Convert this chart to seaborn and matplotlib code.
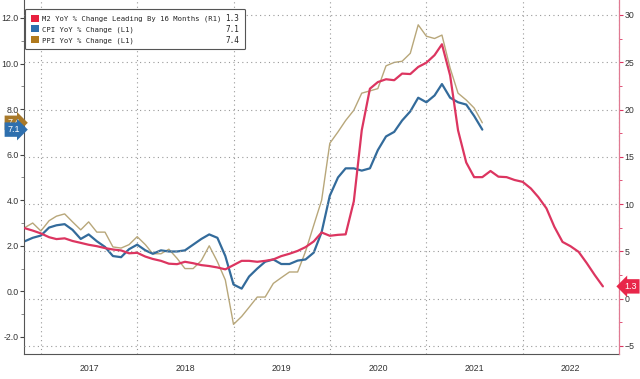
import numpy as np
import pandas as pd
import seaborn as sns
import matplotlib.pyplot as plt
import matplotlib.dates as mdates
import matplotlib.transforms as mtrans
from matplotlib.patches import Patch

# monthly points, first of month, as placed on the chart axis
months = pd.date_range('2016-11-01', periods=73, freq='MS')

# M2 YoY % change, leading by 16 months (right axis)
m2 = [7.45, 7.2, 6.9, 6.5, 6.3, 6.38, 6.1, 5.9, 5.7, 5.55, 5.35, 5.2, 5.1, 4.8, 4.85,
      4.45, 4.2, 4.0, 3.7, 3.65, 3.9, 3.75, 3.55, 3.45, 3.3, 3.1, 3.55, 4.0, 4.0, 3.9,
      4.0, 4.15, 4.5, 4.75, 5.05, 5.45, 6.05, 7.0, 6.65, 6.75, 6.8, 10.3, 17.8, 22.2,
      22.9, 23.2, 23.1, 23.8, 23.75, 24.5, 24.95, 25.75, 26.9, 23.6, 17.8, 14.4, 12.85,
      12.85, 13.5, 12.9, 12.85, 12.55, 12.35, 11.65, 10.75, 9.55, 7.6, 6.0, 5.55, 4.95,
      3.75, 2.5, 1.3]

# CPI YoY % change (left axis)
cpi = [2.2, 2.35, 2.45, 2.8, 2.9, 2.95, 2.7, 2.3, 2.5, 2.2, 1.95, 1.55, 1.5, 1.85, 2.05,
       1.8, 1.65, 1.8, 1.75, 1.75, 1.8, 2.05, 2.3, 2.5, 2.35, 1.55, 0.3, 0.12, 0.65, 1.0,
       1.3, 1.4, 1.2, 1.2, 1.35, 1.4, 1.7, 2.6, 4.2, 5.0, 5.4, 5.4, 5.3, 5.4, 6.2, 6.8,
       7.0, 7.5, 7.9, 8.5, 8.3, 8.6, 9.1, 8.5, 8.3, 8.2, 7.7, 7.1]

# PPI YoY % change (left axis)
ppi = [2.8, 3.0, 2.65, 3.1, 3.3, 3.4, 3.05, 2.7, 3.05, 2.6, 2.6, 1.95, 1.9, 2.05, 2.4,
       2.05, 1.65, 1.65, 1.85, 1.45, 1.0, 1.0, 1.35, 2.0, 1.3, 0.5, -1.45, -1.1, -0.7,
       -0.25, -0.25, 0.35, 0.6, 0.85, 0.85, 1.75, 2.9, 4.0, 6.5, 7.0, 7.5, 7.95, 8.7,
       8.8, 8.9, 9.9, 10.05, 10.1, 10.45, 11.7, 11.2, 11.1, 11.25, 9.8, 8.7, 8.4, 8.05, 7.4]

year_labels = ['2017', '2018', '2019', '2020', '2021', '2022']
legend_labels = ['M2 YoY % Change Leading By 16 Months (R1)',
                 'CPI YoY % Change (L1)', 'PPI YoY % Change (L1)']
legend_values = ['1.3', '7.1', '7.4']

red = '#dc3560'
blue = '#336b9b'
tan = '#b8a77a'

sns.set_style('white')
plt.rcParams['font.family'] = ['Liberation Sans', 'DejaVu Sans']

fig = plt.figure(figsize=(6.4, 3.79), dpi=100)
ax = fig.add_axes([24/640, 25/379, 595/640, 354/379])
ax2 = ax.twinx()

df = pd.DataFrame({'date': months[:len(cpi)], 'cpi': cpi, 'ppi': ppi})
df2 = pd.DataFrame({'date': months, 'm2': m2})

sns.lineplot(data=df, x='date', y='ppi', ax=ax, color=tan, lw=1.0)
sns.lineplot(data=df, x='date', y='cpi', ax=ax, color=blue, lw=1.6)
sns.lineplot(data=df2, x='date', y='m2', ax=ax2, color=red, lw=1.6)

for a in (ax, ax2):
    a.set_xlabel('')
    a.set_ylabel('')

ax.set_xlim(pd.Timestamp('2016-10-29'), pd.Timestamp('2023-01-01'))
ax.set_ylim(-2.75, 12.79)
ax2.set_ylim(-5.85, 31.58)

# x axis: long year separators, quarterly small ticks
ax.xaxis.set_major_locator(mdates.YearLocator())
ax.xaxis.set_minor_locator(mdates.MonthLocator(bymonth=[1, 4, 7, 10]))
ax.xaxis.set_major_formatter(plt.NullFormatter())
ax.tick_params(axis='x', which='major', length=19, width=0.8, color='#999999', direction='out')
ax.tick_params(axis='x', which='minor', length=2.5, width=0.7, color='#555555', direction='out')
ax.grid(axis='x', which='major', ls=(0, (1, 3)), color='#999999', lw=0.8)

# left axis
ax.set_yticks(np.arange(-2, 13, 2))
ax.set_yticks(np.arange(-1, 13, 2), minor=True)
ax.yaxis.set_major_formatter(plt.FormatStrFormatter('%.1f'))
ax.tick_params(axis='y', which='major', length=3, width=0.8, color='#444444',
               labelsize=6.3, labelcolor='#333333', pad=1)
ax.tick_params(axis='y', which='minor', length=2, width=0.6, color='#777777')

# right axis
ax2.set_yticks(np.arange(-5, 31, 5))
ax2.set_yticks(np.arange(-2.5, 31, 5), minor=True)
ax2.tick_params(axis='y', which='major', length=3, width=0.8, color=red,
                labelsize=6.3, labelcolor='#333333', pad=1)
ax2.tick_params(axis='y', which='minor', length=2, width=0.6, color=red)
ax2.grid(axis='y', which='major', ls=(0, (1, 3)), color='#999999', lw=0.8)

for s in ('top', 'right'):
    ax.spines[s].set_visible(False)
ax.spines['left'].set_color('#555555')
ax.spines['bottom'].set_color('#555555')
ax.spines['left'].set_linewidth(0.8)
ax.spines['bottom'].set_linewidth(0.8)
for s in ('top', 'left', 'bottom'):
    ax2.spines[s].set_visible(False)
ax2.spines['right'].set_color('#e07a92')
ax2.spines['right'].set_linewidth(0.9)

# year labels centred under each year
trans = mtrans.blended_transform_factory(ax.transData, ax.transAxes)
for y in year_labels:
    ax.text(pd.Timestamp(y + '-07-02'), -0.04, y, transform=trans, ha='center', va='center',
            fontsize=6.3, color='#333333')

# last value badges
ltrans = mtrans.blended_transform_factory(ax.transAxes, ax.transData)
ax.text(-0.007, ppi[-1], legend_values[2], transform=ltrans, ha='right', va='center',
        fontsize=6.5, color='white',
        bbox=dict(boxstyle='rarrow,pad=0.3', fc='#a8792a', ec='none'), clip_on=False)
ax.text(-0.007, cpi[-1], legend_values[1], transform=ltrans, ha='right', va='center',
        fontsize=6.5, color='white',
        bbox=dict(boxstyle='rarrow,pad=0.3', fc='#2e6fae', ec='none'), clip_on=False)
rtrans = mtrans.blended_transform_factory(ax2.transAxes, ax2.transData)
ax2.text(1.009, m2[-1], legend_values[0], transform=rtrans, ha='left', va='center',
         fontsize=6.5, color='white',
         bbox=dict(boxstyle='larrow,pad=0.3', fc='#e8264a', ec='none'), clip_on=False)

# legend
handles = [Patch(fc='#e8213f', ec='none'), Patch(fc='#2e6fae', ec='none'),
           Patch(fc='#b07a1e', ec='none')]
leg = ax2.legend(handles, legend_labels, loc='upper left',
                 bbox_to_anchor=(25/640, 1 - 52/379, 220/640, 43/379),
                 bbox_transform=fig.transFigure, mode='expand', borderaxespad=0,
                 prop={'family': 'DejaVu Sans Mono', 'size': 5.2},
                 handlelength=1.1, handleheight=1.1, handletextpad=0.4,
                 labelspacing=0.45, borderpad=0.8, fancybox=True, framealpha=1,
                 edgecolor='#555555')
leg.get_frame().set_linewidth(0.8)
fig.canvas.draw()
inv = fig.transFigure.inverted()
for t, v in zip(leg.get_texts(), legend_values):
    bb = t.get_window_extent()
    yc = inv.transform((0, (bb.y0 + bb.y1) / 2))[1]
    fig.text(239/640, yc, v, ha='right', va='center', fontsize=5.5,
             family='DejaVu Sans Mono', color='#222222', zorder=10)

fig.savefig('out.png', dpi=100)
